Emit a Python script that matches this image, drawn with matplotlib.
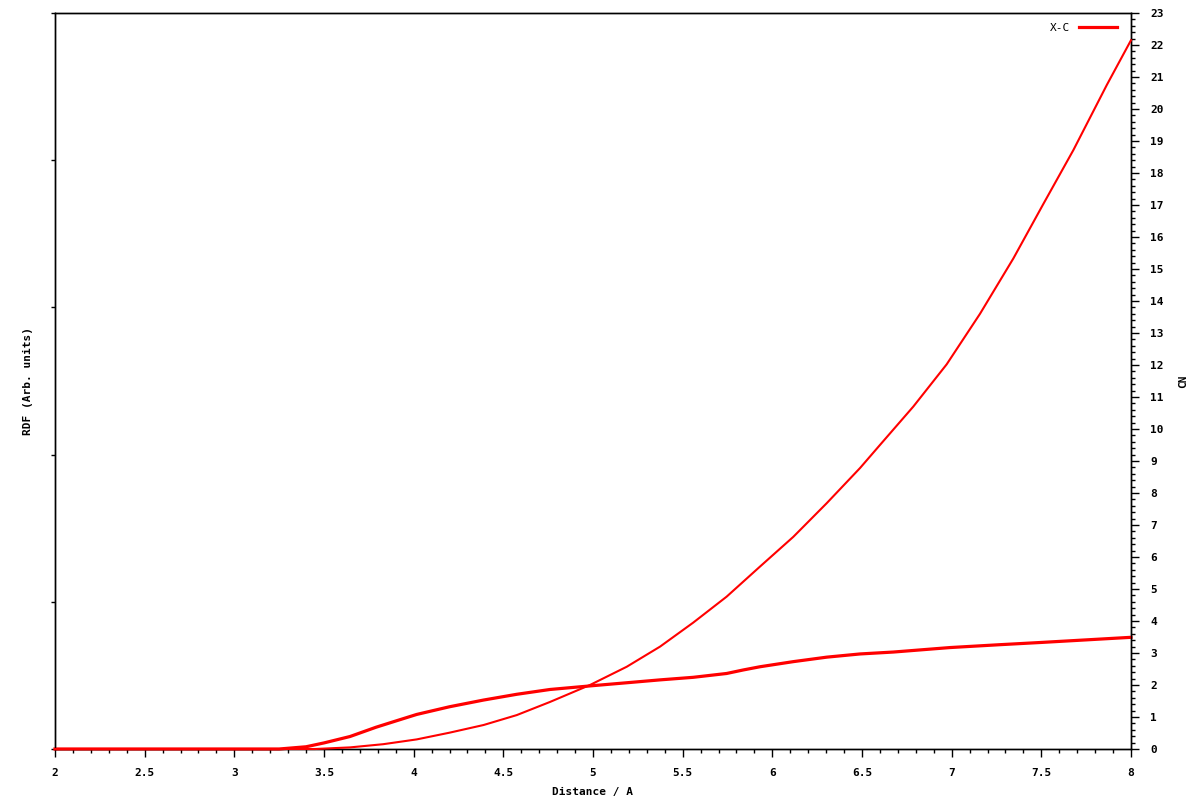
import numpy as np
import matplotlib
matplotlib.use("Agg")
import matplotlib.pyplot as plt
from matplotlib.ticker import MultipleLocator

# ---------------- data ----------------
r_rdf = [2.0, 3.25, 3.40, 3.50, 3.645, 3.79, 3.92, 4.017, 4.20, 4.39, 4.575,
         4.76, 5.0, 5.188, 5.374, 5.559, 5.745, 5.838, 5.931, 6.117, 6.303,
         6.489, 6.675, 6.99, 7.27, 7.5, 7.75, 8.0]
rdf = [0.0, 0.0, 0.0152, 0.0413, 0.0848, 0.1478, 0.1978, 0.2348, 0.2870, 0.3326, 0.3717,
       0.4043, 0.4304, 0.4500, 0.4696, 0.4870, 0.5130, 0.5370, 0.5587, 0.5935, 0.6239,
       0.6457, 0.6587, 0.6891, 0.7087, 0.7239, 0.7413, 0.7587]

r_cn = [2.0, 3.45, 3.645, 3.83, 4.017, 4.20, 4.39, 4.575, 4.76, 4.983, 5.188,
        5.374, 5.559, 5.745, 5.931, 6.117, 6.303, 6.489, 6.60, 6.786, 6.972,
        7.158, 7.344, 7.51, 7.679, 7.865, 8.0]
cn = [0.0, 0.0, 0.05, 0.15, 0.30, 0.51, 0.75, 1.06, 1.47, 2.0, 2.57,
      3.2, 3.95, 4.76, 5.70, 6.63, 7.68, 8.78, 9.5, 10.7, 12.02,
      13.6, 15.33, 17.02, 18.72, 20.75, 22.15]

legend_label = "X-C"
xlabel = "Distance / A"
ylabel = "RDF (Arb. units)"
y2label = "CN"

# ---------------- plot ----------------
FONT = dict(family="DejaVu Sans Mono", weight="bold", size=8)
RED = "#ff0000"

fig = plt.figure(figsize=(12, 8), dpi=100)
ax = fig.add_axes([55 / 1200, 51 / 800, 1076 / 1200, 736 / 800])
ax2 = ax.twinx()

ax.plot(r_rdf, rdf, color=RED, lw=2.3, label=legend_label, clip_on=False, zorder=3)
ax2.plot(r_cn, cn, color=RED, lw=1.5, clip_on=False, zorder=3)

ax.set_xlim(2, 8)
ax.set_ylim(0, 5)
ax2.set_ylim(0, 23)

ax.set_xticks(np.arange(2, 8.01, 0.5))
ax.set_xticklabels(["2", "2.5", "3", "3.5", "4", "4.5", "5", "5.5", "6", "6.5", "7", "7.5", "8"], **FONT)
ax.xaxis.set_minor_locator(MultipleLocator(0.1))
ax.set_yticks(np.arange(0, 6, 1))
ax.set_yticklabels([])

ax2.set_yticks(np.arange(0, 24, 1))
ax2.set_yticklabels([str(i) for i in range(24)], **FONT)
ax2.yaxis.set_minor_locator(MultipleLocator(0.2))

ax.tick_params(axis="x", which="major", direction="out", length=6, width=1, pad=8)
ax.tick_params(axis="x", which="minor", direction="out", length=3, width=1)
ax.tick_params(axis="y", which="major", direction="out", length=3, width=1)
ax2.tick_params(axis="y", which="major", direction="out", length=6, width=1, pad=8)
ax2.tick_params(axis="y", which="minor", direction="out", length=3, width=1)

for a in (ax, ax2):
    for s in a.spines.values():
        s.set_linewidth(1)
        s.set_color("black")

ax.set_xlabel(xlabel, labelpad=6, **FONT)
ax.set_ylabel(ylabel, labelpad=9, **FONT)
ax2.set_ylabel(y2label, labelpad=10, rotation=90, **FONT)

leg = ax.legend(loc="upper right", frameon=False, markerfirst=False,
                handlelength=3.4, borderaxespad=0.3,
                bbox_to_anchor=(1 - 6 / 1076, 1 - 2 / 736),
                prop=dict(family="DejaVu Sans Mono", size=8))
for h in leg.get_lines():
    h.set_linewidth(2.3)

fig.savefig("out.png", dpi=100)
